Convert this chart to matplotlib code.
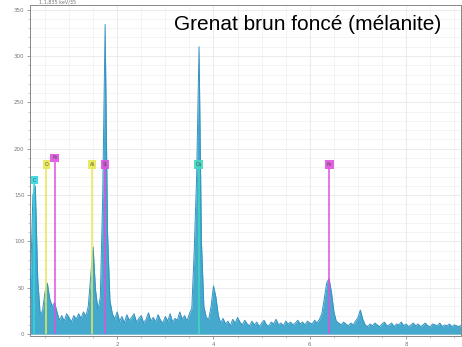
import numpy as np
import matplotlib.pyplot as plt

# Spectre EDS : comptages par canal de 0,05 keV à partir de 0,15 keV
e_debut = 0.15
pas = 0.05
comptages = [
    8, 55, 150, 160, 60, 22, 25, 45, 55, 38,
    30, 34, 24, 15, 20, 14, 22, 18, 13, 20,
    16, 22, 17, 24, 19, 30, 62, 94, 48, 26,
    40, 150, 334, 110, 36, 22, 16, 24, 14, 19,
    12, 21, 15, 18, 22, 13, 17, 20, 12, 16,
    23, 14, 18, 13, 21, 15, 12, 19, 14, 22,
    13, 17, 15, 24, 16, 20, 14, 22, 28, 90,
    170, 310, 100, 30, 18, 16, 30, 52, 40, 20,
    12, 17, 11, 14, 9, 16, 12, 18, 13, 10,
    15, 11, 9, 14, 10, 13, 8, 12, 15, 10,
    9, 13, 11, 16, 10, 12, 9, 14, 11, 13,
    10, 12, 15, 11, 13, 10, 14, 12, 11, 15,
    12, 16, 22, 38, 55, 60, 45, 24, 14, 12,
    10, 13, 11, 9, 12, 10, 14, 18, 26, 16,
    10, 8, 11, 9, 12, 10, 8, 11, 13, 9,
    10, 12, 8, 11, 10, 13, 9, 11, 8, 10,
    12, 9, 11, 8, 10, 12, 9, 8, 11, 10,
    9, 12, 8, 10, 9, 11, 8, 10, 9, 8,
    10, 9,
]

# Marqueurs des raies
elements = ['C', 'O', 'Fe', 'Al', 'Si', 'Ca', 'Fe']
energies_raies = [0.277, 0.525, 0.705, 1.486, 1.740, 3.690, 6.400]
hauteurs_etiq = [166, 183, 190, 183, 183, 183, 183]
couleurs_raies = ['#2fd8e0', '#e8e850', '#e050e0', '#e8e850', '#e050e0', '#40d8c0', '#e050e0']

energies = e_debut + pas * np.arange(len(comptages))

fig = plt.figure(figsize=(4.62, 3.47), dpi=100)
ax = fig.add_axes([30 / 462, 1 - 336 / 347, 431 / 462, 331 / 347])

ax.fill_between(energies, comptages, color='#44a9cc', lw=0, zorder=2)
ax.plot(energies, comptages, color='#3593c2', lw=0.7, zorder=3)

for el, e, h, c in zip(elements, energies_raies, hauteurs_etiq, couleurs_raies):
    ax.vlines(e, 0, h - 4, color=c, lw=1.3, alpha=0.85, zorder=4)
    ax.text(e, h, el, fontsize=3.5, ha='center', va='center', color='#555555',
            bbox=dict(boxstyle='square,pad=0.35', fc=c, ec='none', alpha=0.9), zorder=5)

ax.set_xlim(0.19, 9.14)
ax.set_ylim(-2, 355)
ax.set_xticks([2, 4, 6, 8])
ax.set_xticks(np.arange(0.5, 9.1, 0.5), minor=True)
ax.set_yticks(range(0, 351, 50))
ax.set_yticks(range(0, 351, 10), minor=True)
ax.tick_params(labelsize=4, colors='#777777', length=2, width=0.5, pad=2)
ax.tick_params(which='minor', length=1.2, width=0.4, colors='#999999')
ax.grid(True, which='major', color='#e8e8e8', lw=0.6, zorder=0)
ax.grid(True, which='minor', color='#f0f0f0', lw=0.5, zorder=0)
ax.set_axisbelow(True)
for s in ax.spines.values():
    s.set_color('#888888')
    s.set_linewidth(0.7)

ax.text(0.02, 1.0, '1.1,835 keV/35', transform=ax.transAxes, fontsize=3.5,
        color='#777777', va='bottom', ha='left')

fig.text(308 / 462, 1 - 25 / 347, 'Grenat brun foncé (mélanite)', fontsize=15,
         family='Liberation Sans', ha='center', va='center', color='black')

fig.savefig('out.png', dpi=100)
